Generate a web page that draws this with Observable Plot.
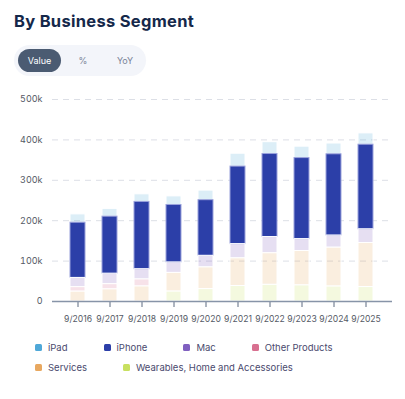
<!DOCTYPE html>
<html>
<head>
<meta charset="utf-8">
<script src="https://cdn.jsdelivr.net/npm/d3@7"></script>
<script src="https://cdn.jsdelivr.net/npm/@observablehq/plot@0.6"></script>
<style>
  html, body { margin: 0; padding: 0; background: #fff; }
  body { width: 405px; height: 399px; position: relative; overflow: hidden; font-family: Inter, "Noto Sans", sans-serif; }
  #title { position: absolute; left: 14px; top: 11px; font-size: 16.5px; font-weight: 700; color: #15284a; letter-spacing: 0.3px; }
  #toggle { position: absolute; left: 14px; top: 45px; width: 132px; height: 31px; border-radius: 16px; background: #f3f5fa; }
  #toggle span { position: absolute; top: 4px; height: 23px; line-height: 23px; font-size: 9px; color: #7a8498; text-align: center; }
  #toggle .on { left: 4px; width: 43px; background: #4b5b72; color: #fff; border-radius: 12px; }
  #chart { position: absolute; left: 0; top: 89px; }
  #legend { position: absolute; left: 35px; top: 341px; width: 330px; display: flex; flex-wrap: wrap; column-gap: 36px; row-gap: 8px; font-size: 9.5px; color: #4a4a6e; }
  #legend .item { display: flex; align-items: center; height: 12px; }
  #legend .sw { width: 7px; height: 7px; border-radius: 1.5px; margin-right: 6px; }
</style>
</head>
<body>
<div id="title">By Business Segment</div>
<div id="toggle"><span class="on">Value</span><span style="left:59px;width:20px">%</span><span style="left:98px;width:26px">YoY</span></div>
<div id="chart"></div>
<div id="legend"></div>
<script>
const years = ["9/2016","9/2017","9/2018","9/2019","9/2020","9/2021","9/2022","9/2023","9/2024","9/2025"];
const segments = ["iPad","iPhone","Mac","Other Products","Services","Wearables, Home and Accessories"];
const colors = ["#4fa8d8","#2c3fa8","#8060c0","#d87090","#e8a860","#c8e060"];
const iPad      = [20628, 19222, 18805, 21280, 23724, 31862, 29292, 28300, 26694, 28023];
const iPhone    = [136700, 141319, 166699, 142381, 137781, 191973, 205489, 200583, 201183, 209586];
const Mac       = [22831, 25850, 25198, 25740, 28622, 35190, 40177, 29357, 29984, 33708];
const Other     = [11132, 12863, 17417, 0, 0, 0, 0, 0, 0, 0];
const Services  = [24348, 29980, 37190, 46291, 53768, 68425, 78129, 85200, 96169, 109158];
const Wearables = [0, 0, 0, 24482, 30620, 38367, 41241, 39845, 37005, 35686];
const yTicks = [0, 100000, 200000, 300000, 400000, 500000];
const highlight = "iPhone";

const series = [iPad, iPhone, Mac, Other, Services, Wearables];
const rows = [];
years.forEach((yr, i) => segments.forEach((s, j) => rows.push({year: yr, segment: s, value: series[j][i]})));
const stackOrder = ["Wearables, Home and Accessories","Services","Other Products","Mac","iPhone","iPad"];

const plot = Plot.plot({
  width: 405, height: 240,
  marginLeft: 52, marginRight: 13, marginTop: 10, marginBottom: 28,
  style: {fontFamily: "Inter, 'Noto Sans', sans-serif", fontSize: "9px", color: "#555a66"},
  x: {domain: years, label: null, padding: 0.52},
  y: {domain: [0, 500000], label: null},
  color: {domain: segments, range: colors},
  marks: [
    Plot.gridY(yTicks.filter(d => d > 0), {stroke: "#dcdfe6", strokeOpacity: 1, strokeDasharray: "6,5"}),
    Plot.barY(rows, Plot.stackY({order: stackOrder}, {
      x: "year", y: "value", fill: "segment",
      fillOpacity: d => d.segment === highlight ? 1 : 0.2,
      stroke: d => d.segment === highlight ? "#9aa2dc" : "#ffffff",
      strokeWidth: 1
    })),
    Plot.axisX({tickSize: 6, stroke: "#5d6b80", tickPadding: 8, fill: "#555a66", fontSize: 8.6}),
    Plot.ruleY([0], {stroke: "#8794a8", strokeWidth: 1.5}),
    Plot.axisY({ticks: yTicks, tickSize: 0, tickPadding: 10, fill: "#555a66",
      tickFormat: d => d === 0 ? "0" : (d / 1000) + "k"})
  ]
});
document.getElementById("chart").appendChild(plot);

const legend = document.getElementById("legend");
segments.forEach((s, i) => {
  const it = document.createElement("div");
  it.className = "item";
  it.innerHTML = `<span class="sw" style="background:${colors[i]}"></span><span>${s}</span>`;
  legend.appendChild(it);
});
</script>
</body>
</html>
